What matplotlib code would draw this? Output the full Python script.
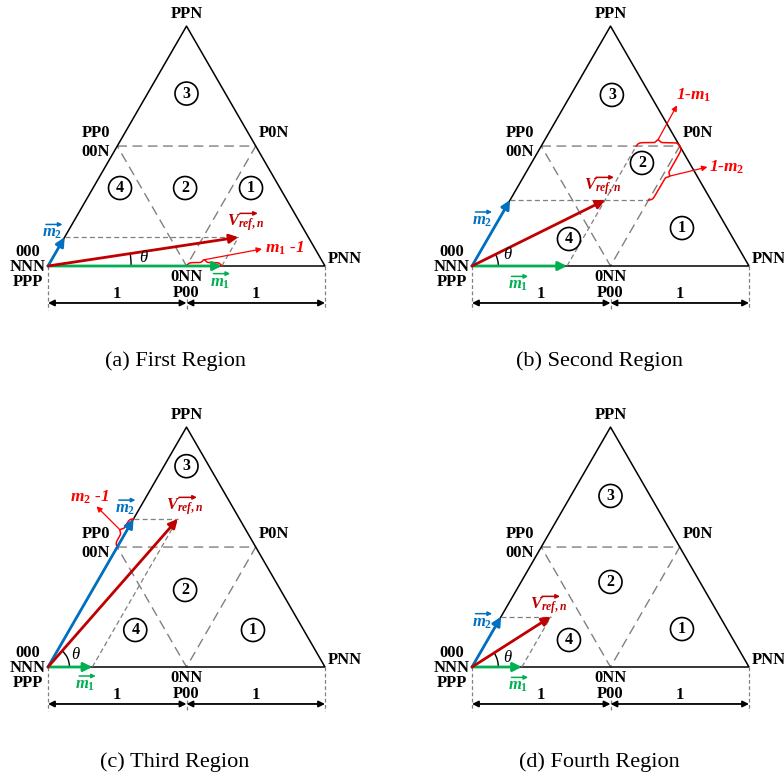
import numpy as np
import matplotlib
matplotlib.use("Agg")
import matplotlib.pyplot as plt
from matplotlib.patches import Arc

plt.rcParams.update({
    "font.family": "Liberation Serif",
    "mathtext.fontset": "custom",
    "mathtext.rm": "Liberation Serif:bold",
    "mathtext.it": "Liberation Serif:italic:bold",
    "mathtext.bf": "Liberation Serif:bold",
})

# ------------------------------------------------------------
# data (triangle side = 2)
# ------------------------------------------------------------
CAPTIONS = ["(a) First Region", "(b) Second Region",
            "(c) Third Region", "(d) Fourth Region"]
M1_LEN = [1.255, 0.686, 0.32, 0.36]      # |m1| along base
M2_LEN = [0.24, 0.55, 1.235, 0.42]       # |m2| along 60 deg side
REGION_NUMS = ["1", "2", "3", "4"]
SIDE_LABELS = ["1", "1"]

RED = "#FF0000"
DARKRED = "#C00000"
BLUE = "#0070C0"
GREEN = "#00B050"
GREY = "#808080"

S = 138.5          # pixels per unit
FW, FH = 784, 782

# pixel boxes and origins for each panel
BOXES = [(0, 0, 392, 391), (392, 0, 784, 391),
         (0, 391, 392, 782), (392, 391, 784, 782)]
ORIGINS = [(48, 266), (472, 266), (48, 667), (472, 667)]

# per-panel text layout
LAYOUT = [
    dict(reg=[(1.466, 0.563), (0.99, 0.563), (1.0, 1.245), (0.52, 0.563)],
         m2=(0.03, 0.235), m1=(1.24, -0.12), vref=(1.43, 0.31),
         th=(0.69, 0.06), r=0.6),
    dict(reg=[(1.516, 0.274), (1.227, 0.744), (1.01, 1.235), (0.70, 0.195)],
         m2=(0.07, 0.325), m1=(0.33, -0.14), vref=(0.94, 0.57),
         th=(0.255, 0.08), r=0.19),
    dict(reg=[(1.48, 0.267), (0.99, 0.556), (1.0, 1.45), (0.63, 0.267)],
         m2=(0.556, 1.14), m1=(0.27, -0.13), vref=(0.99, 1.155),
         th=(0.2, 0.087), r=0.155),
    dict(reg=[(1.516, 0.274), (1.0, 0.614), (1.0, 1.235), (0.70, 0.195)],
         m2=(0.07, 0.32), m1=(0.33, -0.14), vref=(0.55, 0.44),
         th=(0.255, 0.065), r=0.19),
]

H3 = np.sqrt(3) / 2


def arrow(ax, p, q, color, lw=2.0, ms=13, style="-|>"):
    ax.annotate("", xy=q, xytext=p,
                arrowprops=dict(arrowstyle=style, color=color, lw=lw,
                                mutation_scale=ms, shrinkA=0, shrinkB=0))


def vec_label(ax, xy, txt, color, half=0.06, dx=0.015, dy=0.065):
    x, y = xy
    ax.text(x, y, txt, ha="center", va="center", fontsize=12, color=color)
    arrow(ax, (x + dx - half, y + dy), (x + dx + half, y + dy), color,
          lw=1.1, ms=6)


def brace(ax, p, q, h=0.045):
    p, q = np.array(p, float), np.array(q, float)
    d = q - p
    L = np.hypot(*d)
    u = d / L
    n = np.array([-u[1], u[0]])
    s = np.linspace(0, L, 300)
    edge = np.minimum(s, L - s)
    y = 0.55 * h * np.tanh(edge / (0.4 * h)) + \
        0.45 * h * np.exp(-((s - L / 2) / (0.35 * h)) ** 2)
    pts = p[None, :] + s[:, None] * u[None, :] + y[:, None] * n[None, :]
    ax.plot(pts[:, 0], pts[:, 1], color=RED, lw=1.1)
    return p + u * L / 2 + n * h


fig = plt.figure(figsize=(FW / 100, FH / 100), dpi=100)

for k in range(4):
    x0, y0, x1, y1 = BOXES[k]
    ox, oy = ORIGINS[k]
    ax = fig.add_axes([x0 / FW, (FH - y1) / FH, (x1 - x0) / FW, (y1 - y0) / FH])
    ax.set_xlim((x0 - ox) / S, (x1 - ox) / S)
    ax.set_ylim((oy - y1) / S, (oy - y0) / S)
    ax.axis("off")
    lay = LAYOUT[k]

    # inner dashed triangle
    ax.plot([0.5, 1.5, 1.0, 0.5], [H3, H3, 0, H3], color=GREY, lw=1.0,
            dashes=(7, 4))
    # outer triangle
    ax.plot([0, 2, 1, 0], [0, 0, 2 * H3, 0], color="black", lw=1.1)

    # dimension lines
    for xv in [0, 2]:
        ax.plot([xv, xv], [0, -0.32], color=GREY, lw=0.9, dashes=(3, 2))
    ax.plot([1, 1], [-0.235, -0.32], color=GREY, lw=0.9, dashes=(3, 2))
    arrow(ax, (0, -0.267), (1, -0.267), "black", lw=1.3, ms=9, style="<|-|>")
    arrow(ax, (1, -0.267), (2, -0.267), "black", lw=1.3, ms=9, style="<|-|>")
    for xv, t in zip([0.5, 1.5], SIDE_LABELS):
        ax.text(xv, -0.2, t, ha="center", va="center", fontsize=12,
                fontweight="bold")

    # vertex labels
    bold = dict(fontsize=12, fontweight="bold", va="center")
    ax.text(1.0, 1.82, "PPN", ha="center", **bold)
    ax.text(0.45, 0.96, "PP0", ha="right", **bold)
    ax.text(0.445, 0.82, "00N", ha="right", **bold)
    ax.text(1.52, 0.96, "P0N", ha="left", **bold)
    ax.text(-0.145, 0.10, "000", ha="center", **bold)
    ax.text(-0.145, -0.005, "NNN", ha="center", **bold)
    ax.text(-0.145, -0.115, "PPP", ha="center", **bold)
    ax.text(2.02, 0.05, "PNN", ha="left", **bold)
    ax.text(1.0, -0.08, "0NN", ha="center", **bold)
    ax.text(1.0, -0.195, "P00", ha="center", **bold)

    # region numbers
    for (xr, yr), num in zip(lay["reg"], REGION_NUMS):
        ax.text(xr, yr, num, ha="center", va="center", fontsize=11.5,
                fontweight="bold",
                bbox=dict(boxstyle="circle,pad=0.22", fc="none", ec="black", lw=1.2))

    # vectors
    m1 = np.array([M1_LEN[k], 0.0])
    m2 = M2_LEN[k] * np.array([0.5, H3])
    vr = m1 + m2
    ax.plot([m2[0], vr[0]], [m2[1], vr[1]], color=GREY, lw=0.9, dashes=(4, 2.5))
    if k == 1:
        # guides run on to the inner triangle
        ax.plot([m1[0], m1[0] + H3 / np.sqrt(3)], [0, H3], color=GREY,
                lw=0.9, dashes=(4, 2.5))
        xr = 1.5 - (H3 - m2[1]) / np.sqrt(3)
        ax.plot([vr[0], xr], [m2[1], m2[1]], color=GREY, lw=0.9, dashes=(4, 2.5))
    else:
        ax.plot([m1[0], vr[0]], [0, vr[1]], color=GREY, lw=0.9, dashes=(4, 2.5))

    arrow(ax, (0, 0), tuple(m1), GREEN)
    arrow(ax, (0, 0), tuple(m2), BLUE)
    arrow(ax, (0, 0), tuple(vr), DARKRED)

    ang = np.degrees(np.arctan2(vr[1], vr[0]))
    r = lay["r"]
    ax.add_patch(Arc((0, 0), 2 * r, 2 * r, theta1=0, theta2=ang, color="black", lw=1.0))
    ax.text(*lay["th"], "θ", ha="center", va="center", fontsize=12,
            fontstyle="italic")

    vec_label(ax, lay["m1"], r"$m_{\mathit{1}}$", GREEN)
    vec_label(ax, lay["m2"], r"$m_{\mathit{2}}$", BLUE)
    vec_label(ax, lay["vref"], r"$V_{ref,n}$", DARKRED, half=0.065, dx=0.02,
              dy=0.07)

    # braces
    lab = dict(fontsize=12.5, color=RED, fontstyle="italic", fontweight="bold",
               va="center")
    if k == 0:
        tip = brace(ax, (1.0, 0.0), (m1[0], 0.0))
        arrow(ax, tuple(tip), (1.545, 0.123), RED, lw=0.9, ms=8)
        ax.text(1.57, 0.125, r"$m_{\mathit{1}}$ -1", ha="left", **lab)
    elif k == 1:
        xs = m1[0] + H3 / np.sqrt(3)
        tip = brace(ax, (xs, H3), (1.5, H3))
        arrow(ax, tuple(tip), (1.48, 1.16), RED, lw=0.9, ms=8)
        ax.text(1.6, 1.235, r"1-$m_{\mathit{1}}$", ha="center", **lab)
        xr = 1.5 - (H3 - m2[1]) / np.sqrt(3)
        tip = brace(ax, (1.5, H3), (xr, m2[1]))
        arrow(ax, tuple(tip), (1.70, 0.715), RED, lw=0.9, ms=8)
        ax.text(1.71, 0.715, r"1-$m_{\mathit{2}}$", ha="left", **lab)
    elif k == 2:
        tip = brace(ax, (0.5, H3), tuple(m2))
        arrow(ax, tuple(tip), (0.35, 1.16), RED, lw=0.9, ms=8)
        ax.text(0.30, 1.225, r"$m_{\mathit{2}}$ -1", ha="center", **lab)

    ax.text(0.917, -0.686, CAPTIONS[k], ha="center", va="center", fontsize=16)

fig.savefig("out.png", dpi=100)
